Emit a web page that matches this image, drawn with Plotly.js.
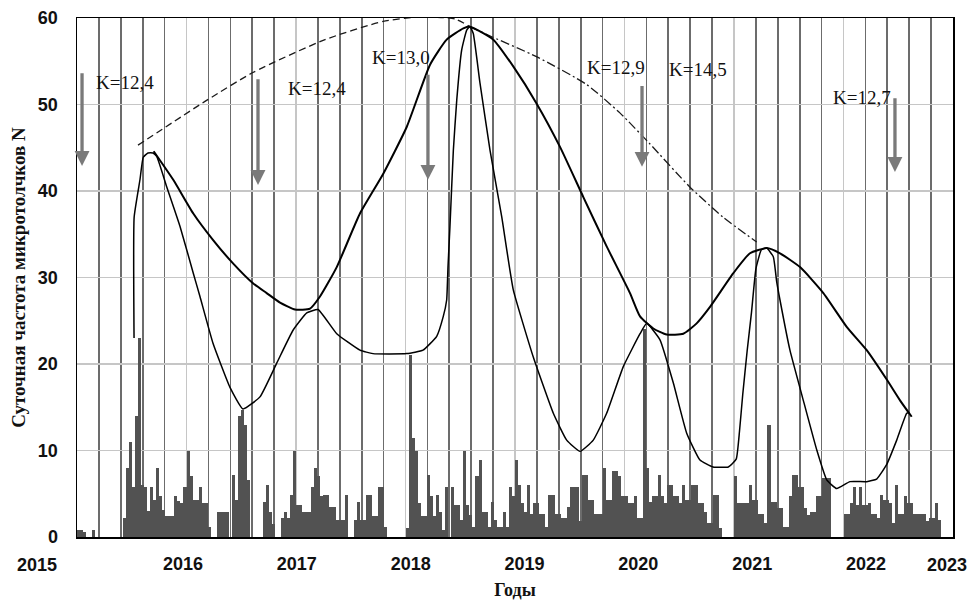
<!DOCTYPE html>
<html>
<head>
<meta charset="utf-8">
<script src="https://cdn.plot.ly/plotly-3.0.1.min.js"></script>
<style>html,body{margin:0;padding:0;background:#fff}#chart{width:976px;height:600px}</style>
</head>
<body>
<div id="chart"></div>
<script>
// ---- data ----
// daily micro-tremor frequency, aggregated per 1/36-year bin, starting 2015.0
const binStart = 2015;
const binWidth = 1 / 36;
const counts2015 = [0.8,0.8,0.6,0,0,0.8,0,0,0,0, 0,0,0,0,0,2.2,8,11,5.8,14, 23,6,5.8,3,5.8,4.3,8,4.7,3.1,2.4, 2.4,2.4,4.7,4.2,3.9,5.8];
const counts2016 = [10,7,4.3,4.3,5.8,3.9,3.9,1.2,0,0, 2.9,2.9,2.9,2.9,0,7.2,4.3,14,14.7,13, 6.6,0,0,0,0,4.1,6,2.9,1.5,0, 0,2.2,2.9,2.2,4.9,10];
const counts2017 = [3.7,3.7,2.9,2.9,2.9,5.8,8,7,4.7,4.9, 4.9,3.5,3.5,2,2,2,4.9,0,0,2, 4.1,2,2,4.9,4.9,2.4,2.4,5.8,5.8,1.2, 0,0,0,0,0,0];
const counts2018 = [1,21,11.4,10,3.9,2.4,2.4,7.2,4.7,2.4, 4.9,2.9,0.8,5.8,0,5.8,3.7,3.7,2,10, 3.7,2.5,1.2,7,8.9,2.9,2.9,1.2,4.1,2, 1.2,1.2,2.9,1.2,5.8,4.7];
const counts2019 = [8.9,6,3.9,2.9,6,2.7,3.9,3.9,2.7,2.7, 1.2,4.9,4.9,2.7,2.7,2.2,2.2,3.5,5.8,5.8, 5.8,1.8,7.2,7.2,4.3,4.3,2.7,2.7,2.7,8, 4.3,4.3,7.6,7.6,7,4.7];
const counts2020 = [4.7,3.9,3.9,4.7,2.2,2.2,24,8,4.1,4.7, 4.7,7.2,4.7,3.9,6,6,4.7,4.7,3.9,6, 4.3,4.3,6,6,3.9,3.9,2.9,1.6,1.6,4.9, 4.9,1,0,0,0,0];
const counts2021 = [7,3.9,3.9,3.9,3.9,6,4.3,4.3,2.7,2.7, 1.6,13,4.1,4.1,3.3,3.3,1.2,1.2,4.7,7.2, 7.2,5.8,5.8,3.3,2.5,2.9,2.9,4.7,4.7,6.8, 6.8,6.8,0,0,0,0];
const counts2022 = [2.7,2.7,3.9,5.8,3.7,5.8,3.7,3.7,3.9,2.7, 2.7,2.2,4.9,4.3,4.3,3.9,1.6,6,2.7,2.7, 4.7,3.9,3.9,2.7,2.7,2.7,2.7,1.8,2.2,2.2, 3.9,2,0,0,0,0];

// narrow fitted curve
const curveAYears = [2015.521,2015.522,2015.575,2015.605,2015.648,2015.694,2015.728,2015.819,2015.941,2016.062,2016.123,2016.242,2016.397,2016.516,2016.671,2016.824,2016.973,2017.098,2017.201,2017.372,2017.584,2017.703,2018.011,2018.160,2018.285,2018.345,2018.376,2018.388,2018.406,2018.437,2018.468,2018.513,2018.559,2018.589,2018.619,2018.680,2018.772,2018.879,2018.984,2019.167,2019.350,2019.472,2019.594,2019.715,2019.837,2019.989,2020.142,2020.203,2020.324,2020.446,2020.568,2020.689,2020.808,2020.948,2021.020,2021.050,2021.080,2021.120,2021.160,2021.200,2021.250,2021.299,2021.359,2021.390,2021.420,2021.511,2021.633,2021.755,2021.847,2021.938,2022.059,2022.212,2022.303,2022.395,2022.486,2022.577,2022.600];
const curveAValues = [23.0,37.0,41.3,43.9,44.4,44.4,44.0,40.5,35.9,30.5,27.8,22.4,17.3,14.8,16.2,20.1,23.9,25.9,26.3,23.5,21.6,21.2,21.2,21.6,23.2,25.5,27.4,31.2,35.9,44.7,50.5,56.3,58.6,59.0,58.2,52.5,44.7,37.0,28.6,20.8,14.3,11.2,9.9,11.2,14.3,19.7,23.5,24.7,22.8,17.8,12.0,8.9,8.1,8.1,9.0,12.2,16.5,21.5,26.0,31.0,33.2,33.4,32.4,29.5,27.4,21.6,15.8,10.1,6.6,5.6,6.4,6.4,6.7,8.4,11.2,14.3,14.4];

// broad fitted curve
const curveBYears = [2015.700,2015.879,2016.062,2016.245,2016.427,2016.610,2016.732,2016.854,2016.991,2017.128,2017.219,2017.372,2017.584,2017.797,2018.011,2018.224,2018.376,2018.528,2018.589,2018.802,2018.984,2019.198,2019.411,2019.624,2019.837,2020.050,2020.142,2020.263,2020.385,2020.537,2020.659,2020.781,2020.994,2021.146,2021.299,2021.420,2021.603,2021.816,2022.029,2022.212,2022.395,2022.516,2022.623];
const curveBValues = [44.6,41.3,37.4,34.3,31.6,29.3,28.2,27.1,26.3,26.4,27.8,31.2,37.4,42.0,47.4,54.6,57.5,58.8,59.0,57.5,54.4,50.1,45.1,39.3,33.6,28.2,25.5,24.1,23.4,23.5,24.7,26.6,30.5,32.8,33.4,32.8,31.2,28.2,24.3,21.6,18.2,15.8,13.9];

// upper envelope
const envRiseYears = [2015.557,2016.187,2016.607,2017.265,2017.795,2018.120,2018.450,2018.589];
const envRiseValues = [45.3,50.5,53.7,57.5,59.6,60.1,59.9,59.0];
const envFallYears = [2018.589,2018.740,2019.201,2019.655,2019.960,2020.228,2020.594,2020.898,2021.207];
const envFallValues = [59.0,58.1,55.5,52.3,49.0,45.5,40.5,37.0,34.1];

// K labels and arrows
const kLabels = ["K=12,4","K=12,4","K=13,0","K=12,9","K=14,5","K=12,7"];
const kLabelYears = [2015.44,2017.19,2017.96,2019.92,2020.67,2022.17];
const kLabelValues = [52.5,51.9,55.4,54.3,54.1,50.8];
const arrowYears = [2015.046,2016.653,2018.205,2020.160,2022.470];
const arrowTail = [53.8,53.1,53.6,52.3,50.9];
const arrowHead = [42.9,40.7,41.3,42.8,42.2];

const yearTicks = [2016,2017,2018,2019,2020,2021,2022];
const edgeYearLabels = ["2015","2023"];

// ---- build ----
const counts = [].concat(counts2015,counts2016,counts2017,counts2018,counts2019,counts2020,counts2021,counts2022);
const barX = counts.map((v,i) => binStart + (i + 0.5) * binWidth);

const traces = [
  {type:'bar', x:barX, y:counts, width:binWidth, marker:{color:'#525252', line:{width:0}}, hoverinfo:'x+y', showlegend:false},
  {type:'scatter', mode:'lines', x:envRiseYears, y:envRiseValues, line:{color:'#1a1a1a', width:1.3, dash:'7px,4px', shape:'spline', smoothing:0.6}, showlegend:false},
  {type:'scatter', mode:'lines', x:envFallYears, y:envFallValues, line:{color:'#1a1a1a', width:1.3, dash:'9px,3px,2px,3px', shape:'spline', smoothing:0.6}, showlegend:false},
  {type:'scatter', mode:'lines', x:curveBYears, y:curveBValues, line:{color:'#000', width:2, shape:'spline', smoothing:0.5}, showlegend:false},
  {type:'scatter', mode:'lines', x:curveAYears, y:curveAValues, line:{color:'#000', width:1.5, shape:'spline', smoothing:0.4}, showlegend:false},
  {type:'scatter', mode:'lines', x:[], y:[], xaxis:'x2', yaxis:'y', showlegend:false, hoverinfo:'skip'}
];

const annotations = [];
kLabels.forEach((t,i) => annotations.push({
  x:kLabelYears[i], y:kLabelValues[i], xref:'x', yref:'y', text:t, showarrow:false,
  font:{family:'Liberation Serif, Times New Roman, serif', size:19, color:'#111'}
}));
arrowYears.forEach((x,i) => annotations.push({
  x:x, y:arrowHead[i], ax:x, ay:arrowTail[i], xref:'x', yref:'y', axref:'x', ayref:'y',
  text:'', showarrow:true, arrowhead:2, arrowsize:0.9, arrowwidth:3.3, arrowcolor:'#7a7a7a', standoff:0
}));
const edgeX = [-0.0457, 0.993];
edgeYearLabels.forEach((t,i) => annotations.push({
  x:edgeX[i], y:-0.054, xref:'paper', yref:'paper', text:t, showarrow:false, yanchor:'middle', xanchor:'center',
  font:{family:'Liberation Sans, Arial, sans-serif', size:18, color:'#111', weight:'bold'}
}));

const layout = {
  width:976, height:600,
  margin:{l:77, r:23, t:18, b:63},
  paper_bgcolor:'#fff', plot_bgcolor:'#fff',
  bargap:0,
  showlegend:false,
  xaxis:{
    range:[2015,2023], tick0:2015, dtick:1, showticklabels:false, ticks:'',
    showgrid:true, gridcolor:'#c6c6c6', gridwidth:1.6,
    minor:{tick0:2015, dtick:0.2, showgrid:true, gridcolor:'#6c6c6c', gridwidth:1.6, ticks:''},
    showline:true, mirror:true, linecolor:'#000', linewidth:1.5, zeroline:false
  },
  xaxis2:{
    overlaying:'x', anchor:'y', side:'bottom', range:[2015.069,2022.764],
    tickvals:yearTicks, ticktext:yearTicks.map(String), ticks:'', showgrid:false, showline:false, zeroline:false,
    ticklabelstandoff:14,
    tickfont:{family:'Liberation Sans, Arial, sans-serif', size:18, color:'#111', weight:'bold'},
    title:{text:'Годы', standoff:10, font:{family:'Liberation Serif, Times New Roman, serif', size:18, color:'#111', weight:'bold'}}
  },
  yaxis:{
    range:[0,60], dtick:10, ticks:'', ticklabelstandoff:14,
    showgrid:true, gridcolor:'#c6c6c6', gridwidth:1.5,
    showline:true, mirror:true, linecolor:'#000', linewidth:1.5, zeroline:false,
    tickfont:{family:'Liberation Sans, Arial, sans-serif', size:18, color:'#111', weight:'bold'},
    title:{text:'Суточная частота микротолчков N', standoff:7, font:{family:'Liberation Serif, Times New Roman, serif', size:19, color:'#111', weight:'bold'}},
    automargin:false
  },
  annotations:annotations
};

Plotly.newPlot('chart', traces, layout, {staticPlot:true, displayModeBar:false});
</script>
</body>
</html>
